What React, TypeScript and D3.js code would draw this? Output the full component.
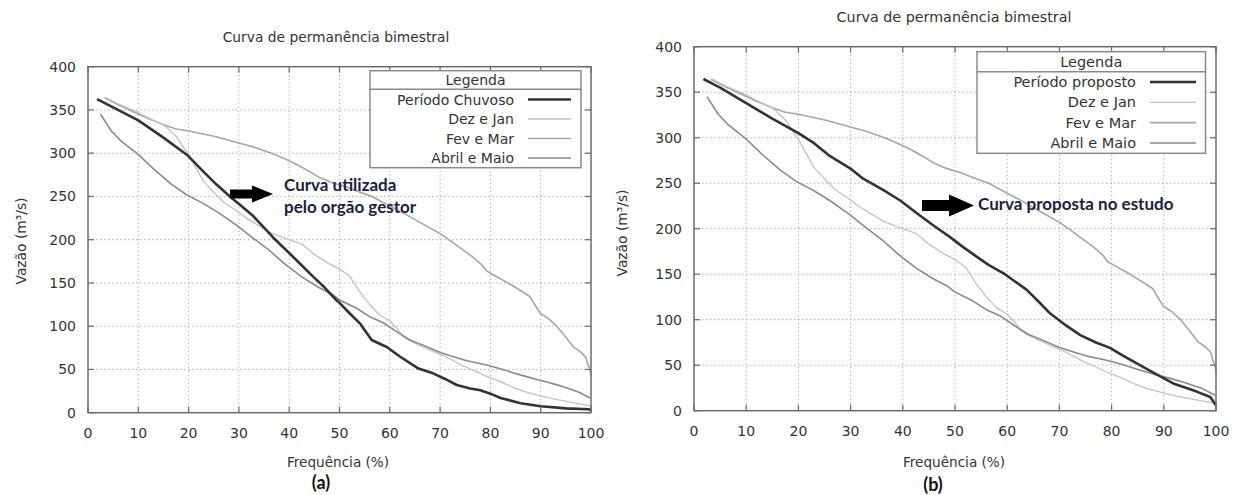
import React from 'react';
import * as d3 from 'd3';

type Pt = [number, number];

const freqTicks = [0, 10, 20, 30, 40, 50, 60, 70, 80, 90, 100];
const vazaoTicks = [0, 50, 100, 150, 200, 250, 300, 350, 400];

const periodoChuvoso: Pt[] = [
  [1.8, 362.5], [5, 353], [10, 338], [15, 318], [19.7, 298], [22.9, 279], [25.5, 264], [28.2, 250],
  [30.5, 239], [32.9, 227], [36.9, 202], [40.8, 180], [44.8, 157], [47, 145], [49.4, 130],
  [50.1, 126.5], [52, 115], [54.1, 103], [54.7, 98], [56.4, 84], [59.4, 76], [62, 65], [65.7, 51],
  [68.6, 45.5], [71, 39], [73.3, 32], [76, 28], [78, 26], [80, 22], [82, 17], [86, 11], [90, 7.5],
  [95, 5], [99.5, 4], [100, 3],
];

const periodoProposto: Pt[] = [
  [1.8, 364.5], [5, 355], [10, 338], [15, 321], [20, 305], [23, 294], [26, 280], [29.9, 266.4],
  [32.4, 255], [36.3, 242.5], [39.5, 231], [42.7, 217], [46, 203], [49, 191], [51.5, 180],
  [54.2, 169], [56.5, 160], [59.3, 151], [61.5, 142], [63.7, 133], [66, 120], [68.2, 107],
  [70.7, 96], [74, 83], [77, 75], [79.7, 69], [82, 61], [86.7, 46], [91.8, 30], [96.3, 21],
  [98.9, 15], [100, 6],
];

const dezJan: Pt[] = [
  [3.3, 365], [6, 357], [10, 347], [13, 338], [15.2, 332], [17.6, 319], [19.9, 299], [21, 288],
  [22.9, 268], [25, 255], [27, 243], [29.9, 232], [31.5, 225], [34, 216], [36.3, 208], [39, 202],
  [42.5, 195], [45, 183], [48, 172], [50, 166], [52, 158], [54, 140], [56, 125], [58, 113],
  [60, 106], [61.5, 97], [62.5, 89], [63.4, 85], [65.8, 78], [68.6, 71], [71, 65], [74.6, 54],
  [77, 48], [79.3, 42], [81.5, 37], [84.6, 29], [87, 24], [89.9, 19.5], [92, 16.5], [95.2, 13],
  [98, 10], [100, 8],
];

const fevMar: Pt[] = [
  [3.3, 364], [6, 356], [9, 348], [12, 340], [15, 333], [17.5, 328], [19.8, 326], [25.5, 319],
  [29.8, 312], [33, 307], [36.5, 300], [39, 294], [41.5, 287], [44, 279], [46, 272], [48.5, 266],
  [51.4, 261], [54, 255], [56.5, 250], [58, 245], [62, 233], [66, 220], [70, 207], [72, 199],
  [74.6, 188], [76.5, 180], [78.3, 171], [79.2, 164], [81, 158], [83.2, 151], [85.5, 143],
  [87.9, 134], [88.5, 128], [89.9, 115], [91.5, 109], [93.2, 100], [94.5, 91], [96.5, 76],
  [98, 70], [99, 64], [99.3, 57], [99.8, 50], [100, 42],
];

const abrilMaio: Pt[] = [
  [2.5, 345], [3.5, 336], [4.6, 326], [6.6, 314], [9.9, 299], [13.2, 281], [16.6, 264], [19.6, 252],
  [22.9, 242], [26, 231], [29.7, 216], [33, 201], [36.2, 187], [39.1, 172], [42.5, 157], [45.8, 145],
  [48.5, 137], [50.1, 130], [53.3, 121], [56, 111], [58.7, 104], [61.8, 92], [64, 84], [67, 77],
  [70, 69.5], [73, 64], [75.3, 60], [78.6, 56], [80, 54], [82.5, 50], [84.6, 46], [87, 42],
  [89.4, 38], [91.2, 35.5], [94, 31], [95.2, 28.5], [97.5, 24], [99.8, 17],
];

const titleText = 'Curva de permanência bimestral';
const xTitle = 'Frequência (%)';
const yTitle = 'Vazão (m³/s)';
const legendTitle = 'Legenda';
const otherLabels = ['Dez e Jan', 'Fev e Mar', 'Abril e Maio'];

const SANS = 'DejaVu Sans, sans-serif';
const BOLD = 'Lato, Calibri, sans-serif';

type Cfg = {
  x0: number; x1: number; y0: number; y1: number;
  titleX: number; titleY: number; titleSize: number;
  yTitleX: number; yTitleY: number;
  xTitleX: number; xTitleY: number;
  panelX: number; panelY: number;
  lg: { x0: number; x1: number; y0: number; y1: number; sep: number; headY: number; rows: number[]; textX: number; l0: number; l1: number; size: number };
  arrow: { r0: number; h0: number; tip: number; cy: number; rh: number; hh: number };
  noteX: number; noteLines: { t: string; y: number }[];
  fs: number;
};

const styleMain = { stroke: '#333333', w: 2.6 };
const styleOthers = [
  { stroke: '#c2c2c2', w: 1.3 },
  { stroke: '#a6a6a6', w: 1.6 },
  { stroke: '#8a8a8a', w: 1.6 },
];

function Chart({ cfg, main, mainLabel, panel }: { cfg: Cfg; main: Pt[]; mainLabel: string; panel: string }) {
  const x = d3.scaleLinear().domain([0, 100]).range([cfg.x0, cfg.x1]);
  const y = d3.scaleLinear().domain([0, 400]).range([cfg.y1, cfg.y0]);
  const line = d3.line<Pt>().x(d => x(d[0])).y(d => y(d[1]));
  const others = [dezJan, fevMar, abrilMaio];
  const drawOrder = [1, 0, 2];
  const tl = 6;
  const a = cfg.arrow;
  const lg = cfg.lg;
  const legendStyles = [styleMain, ...styleOthers];
  const legendLabels = [mainLabel, ...otherLabels];
  return (
    <g>
      <text x={cfg.titleX} y={cfg.titleY} textAnchor="middle" dominantBaseline="central" fontFamily={SANS} fontSize={cfg.titleSize} fill="#333">{titleText}</text>
      {freqTicks.slice(1, -1).map(t => (
        <line key={'gx' + t} x1={x(t)} x2={x(t)} y1={cfg.y0} y2={cfg.y1} stroke="#b0b0b0" strokeWidth={1} strokeDasharray="1.5,2.5" />
      ))}
      {vazaoTicks.slice(1, -1).map(t => (
        <line key={'gy' + t} x1={cfg.x0} x2={cfg.x1} y1={y(t)} y2={y(t)} stroke="#b0b0b0" strokeWidth={1} strokeDasharray="1.5,2.5" />
      ))}
      {drawOrder.map(i => (
        <path key={'c' + i} d={line(others[i]) || ''} fill="none" stroke={styleOthers[i].stroke} strokeWidth={styleOthers[i].w} strokeLinejoin="round" />
      ))}
      <path d={line(main) || ''} fill="none" stroke={styleMain.stroke} strokeWidth={styleMain.w} strokeLinejoin="round" />
      <rect x={cfg.x0} y={cfg.y0} width={cfg.x1 - cfg.x0} height={cfg.y1 - cfg.y0} fill="none" stroke="#6a6a6a" strokeWidth={1.5} />
      {freqTicks.map(t => (
        <g key={'tx' + t}>
          <line x1={x(t)} x2={x(t)} y1={cfg.y1} y2={cfg.y1 - tl} stroke="#6a6a6a" strokeWidth={1.2} />
          <line x1={x(t)} x2={x(t)} y1={cfg.y0} y2={cfg.y0 + tl} stroke="#6a6a6a" strokeWidth={1.2} />
          <text x={x(t)} y={cfg.y1 + 20} textAnchor="middle" dominantBaseline="central" fontFamily={SANS} fontSize={cfg.fs} fill="#333">{t}</text>
        </g>
      ))}
      {vazaoTicks.map(t => (
        <g key={'ty' + t}>
          <line x1={cfg.x0} x2={cfg.x0 + tl} y1={y(t)} y2={y(t)} stroke="#6a6a6a" strokeWidth={1.2} />
          <line x1={cfg.x1} x2={cfg.x1 - tl} y1={y(t)} y2={y(t)} stroke="#6a6a6a" strokeWidth={1.2} />
          <text x={cfg.x0 - 12} y={y(t)} textAnchor="end" dominantBaseline="central" fontFamily={SANS} fontSize={cfg.fs} fill="#333">{t}</text>
        </g>
      ))}
      <text x={cfg.xTitleX} y={cfg.xTitleY} textAnchor="middle" dominantBaseline="central" fontFamily={SANS} fontSize={13.6} fill="#333">{xTitle}</text>
      <text transform={`translate(${cfg.yTitleX},${cfg.yTitleY}) rotate(-90)`} textAnchor="middle" dominantBaseline="central" fontFamily={SANS} fontSize={13.8} fill="#333">{yTitle}</text>
      <text x={cfg.panelX} y={cfg.panelY} textAnchor="middle" dominantBaseline="central" fontFamily={BOLD} fontWeight="bold" fontSize={18} fill="#111">{panel}</text>
      <rect x={lg.x0} y={lg.y0} width={lg.x1 - lg.x0} height={lg.y1 - lg.y0} fill="#fff" stroke="#8a8a8a" strokeWidth={1.5} />
      <line x1={lg.x0} x2={lg.x1} y1={lg.sep} y2={lg.sep} stroke="#8a8a8a" strokeWidth={1.5} />
      <text x={(lg.x0 + lg.x1) / 2} y={lg.headY} textAnchor="middle" dominantBaseline="central" fontFamily={SANS} fontSize={lg.size} fill="#333">{legendTitle}</text>
      {legendLabels.map((lab, i) => (
        <g key={'lg' + i}>
          <text x={lg.textX} y={lg.rows[i]} textAnchor="end" dominantBaseline="central" fontFamily={SANS} fontSize={lg.size} fill="#333">{lab}</text>
          <line x1={lg.l0} x2={lg.l1} y1={lg.rows[i]} y2={lg.rows[i]} stroke={legendStyles[i].stroke} strokeWidth={legendStyles[i].w} />
        </g>
      ))}
      <rect x={a.r0} y={a.cy - a.rh / 2} width={a.h0 - a.r0 + 1} height={a.rh} fill="#000" />
      <polygon points={`${a.h0},${a.cy - a.hh / 2} ${a.tip},${a.cy} ${a.h0},${a.cy + a.hh / 2}`} fill="#000" />
      {cfg.noteLines.map((l, i) => (
        <text key={'n' + i} x={cfg.noteX} y={l.y} fontFamily={BOLD} fontWeight="bold" fontSize={17} fill="#1b2140">{l.t}</text>
      ))}
    </g>
  );
}

const leftCfg: Cfg = {
  x0: 88, x1: 591, y0: 66.7, y1: 412.7,
  titleX: 336, titleY: 37, titleSize: 13.8,
  yTitleX: 21, yTitleY: 241,
  xTitleX: 338, xTitleY: 462,
  panelX: 321, panelY: 482,
  lg: { x0: 370, x1: 581, y0: 70.7, y1: 167.7, sep: 89.3, headY: 80, rows: [99.5, 119, 138.5, 158], textX: 514, l0: 528, l1: 571, size: 14 },
  arrow: { r0: 230, h0: 252, tip: 273, cy: 194, rh: 9, hh: 17 },
  noteX: 284, noteLines: [{ t: 'Curva utilizada', y: 191 }, { t: 'pelo orgão gestor', y: 213 }],
  fs: 14,
};

const rightCfg: Cfg = {
  x0: 694, x1: 1216, y0: 46.7, y1: 410.7,
  titleX: 954, titleY: 17, titleSize: 14.3,
  yTitleX: 622, yTitleY: 233,
  xTitleX: 954, xTitleY: 462,
  panelX: 933, panelY: 484,
  lg: { x0: 977, x1: 1205.5, y0: 51.7, y1: 153.3, sep: 71.7, headY: 61.7, rows: [82, 102.3, 122.6, 143], textX: 1136, l0: 1150, l1: 1196, size: 14.5 },
  arrow: { r0: 922, h0: 949, tip: 974, cy: 205.5, rh: 11, hh: 22 },
  noteX: 978, noteLines: [{ t: 'Curva proposta no estudo', y: 209.5 }],
  fs: 14,
};

export default function App() {
  return (
    <svg width={1236} height={495} style={{ position: 'absolute', left: 0, top: 0, background: '#fff' }}>
      <rect x={0} y={0} width={1236} height={495} fill="#fff" />
      <Chart cfg={leftCfg} main={periodoChuvoso} mainLabel="Período Chuvoso" panel="(a)" />
      <Chart cfg={rightCfg} main={periodoProposto} mainLabel="Período proposto" panel="(b)" />
    </svg>
  );
}
